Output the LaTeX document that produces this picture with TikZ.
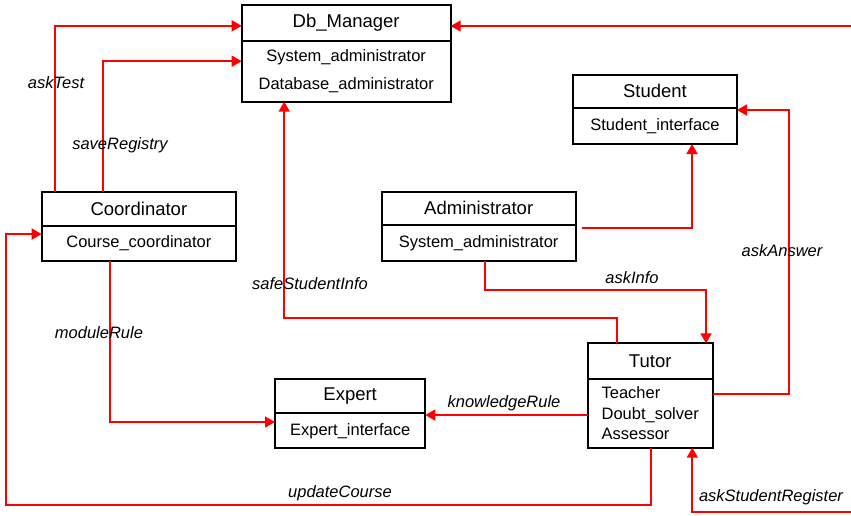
\documentclass[tikz,border=0pt]{standalone}
\usepackage{fontspec}
\setmainfont{Liberation Sans}
\usepackage{tikz}
\usetikzlibrary{arrows.meta, positioning, calc}
\definecolor{myred}{RGB}{255,0,0}
\tikzset{
  classhead/.style={rectangle, draw=black, line width=1.8pt, anchor=north west,
    inner sep=0pt, outer sep=0pt, font=\fontsize{18.5}{22}\selectfont},
  classbody/.style={rectangle, draw=black, line width=1.8pt, anchor=north,
    inner sep=0pt, outer sep=0pt, font=\fontsize{16.5}{20}\selectfont},
  flow/.style={-{Triangle[length=10pt,width=11pt]}, line width=1.8pt, color=myred},
  line/.style={line width=1.8pt, color=myred},
  lbl/.style={font=\fontsize{16.5}{20}\selectfont\itshape, inner sep=0pt}
}
\begin{document}
\begin{tikzpicture}[x=1pt, y=-1pt]
  \useasboundingbox[fill=white] (0,0) rectangle (851,515);

  % classes
  \node[classhead, minimum width=209pt, minimum height=35.7pt] (db) at (241.7,5) {Db\_Manager};
  \node[classbody, minimum width=209pt, minimum height=61pt, align=center,
    font=\fontsize{16.5}{28}\selectfont] (dbb) at (db.south)
    {System\_administrator\\Database\_administrator};

  \node[classhead, minimum width=164pt, minimum height=33pt] (stu) at (573,74.7) {Student};
  \node[classbody, minimum width=164pt, minimum height=36.3pt] (stub) at (stu.south) {Student\_interface};

  \node[classhead, minimum width=194pt, minimum height=33.3pt] (adm) at (381.7,191.7) {Administrator};
  \node[classbody, minimum width=194pt, minimum height=36pt] (admb) at (adm.south) {System\_administrator};

  \node[classhead, minimum width=194.3pt, minimum height=34pt] (coord) at (41.7,191.7) {Coordinator};
  \node[classbody, minimum width=194.3pt, minimum height=35.3pt] (coordb) at (coord.south) {Course\_coordinator};

  \node[classhead, minimum width=150.3pt, minimum height=34.3pt] (exp) at (275,379) {Expert};
  \node[classbody, minimum width=150.3pt, minimum height=35pt] (expb) at (exp.south) {Expert\_interface};

  \node[classhead, minimum width=125pt, minimum height=35.7pt] (tutor) at (587.7,343.3) {Tutor};
  \node[classbody, minimum width=125pt, minimum height=68.7pt, align=left,
    font=\fontsize{16.5}{20.5}\selectfont] (tutorb) at (tutor.south)
    {Teacher\\Doubt\_solver\\Assessor};

  % loose ends at the border
  \coordinate (edgeA) at (851,26);
  \coordinate (edgeB) at (851,511.7);
  \coordinate (kr) at ([yshift=-1.7pt]tutorb.west);

  % connectors
  \draw[flow] ([xshift=13pt]coord.north west) |- ([yshift=-3pt]db.west);
  \draw[flow] ([xshift=61pt]coord.north west) |- ([yshift=10pt]dbb.west);
  \draw[flow] (edgeA) -- (edgeA -| db.east);
  \draw[flow] ([xshift=29pt]tutor.north west) -- ++(0,-25.3) -| ([xshift=42.5pt]dbb.south west);
  \draw[flow] ([xshift=103.3pt]admb.south west) -- ++(0,29) -| ([xshift=118.3pt]tutor.north west);
  \draw[flow] ([xshift=6pt,yshift=15pt]admb.east) -| ([xshift=119pt]stub.south west);
  \draw[flow] ([yshift=19.3pt]tutorb.east) -- ++(76.3,0) |- ([yshift=-2.3pt]stub.north east);
  \draw[flow] (kr) -- (kr -| expb.east);
  \draw[flow] ([xshift=68.3pt]coordb.south west) |- ([yshift=8.8pt]expb.west);
  \draw[flow] ([xshift=63.3pt]tutorb.south west) -- ++(0,57.3)
    -| ([xshift=-35.7pt,yshift=9.3pt]coordb.west) -- ([yshift=9.3pt]coordb.west);
  \draw[flow] (edgeB) -| ([xshift=104.6pt]tutorb.south west);

  % labels
  \node[lbl] (lasktest) at (56,83) {askTest};
  \node[lbl] (lsave) at (120,145) {saveRegistry};
  \node[lbl] (lsafe) at (310,284) {safeStudentInfo};
  \node[lbl] (lmodule) at (99,333) {moduleRule};
  \node[lbl] (lupdate) at (340,493) {updateCourse};
  \node[lbl] (linfo) at (632,278) {askInfo};
  \node[lbl] (lanswer) at (782,251) {askAnswer};
  \node[lbl] (lknow) at (504,403) {knowledgeRule};
  \node[lbl] (lreg) at (771,497) {askStudentRegister};
\end{tikzpicture}
\end{document}
